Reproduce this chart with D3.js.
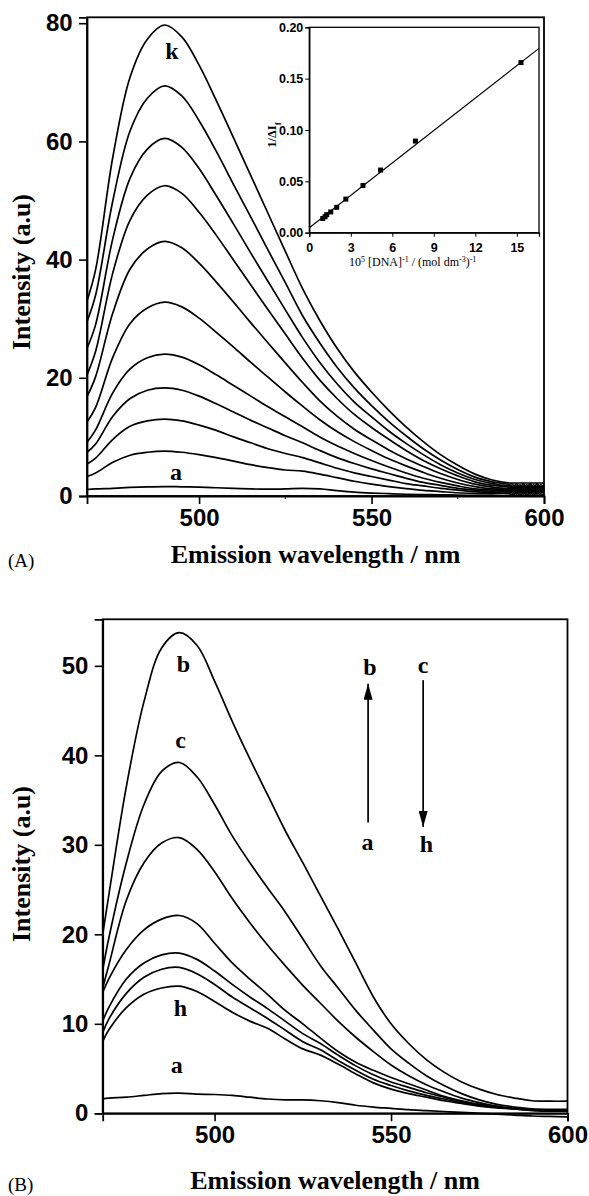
<!DOCTYPE html>
<html>
<head>
<meta charset="utf-8">
<script src="https://cdn.jsdelivr.net/npm/d3@7"></script>
<style>
  html, body { margin: 0; padding: 0; background: #fff; }
  svg { display: block; }
  .tick text { font-family: "Liberation Sans", Arial, sans-serif; font-weight: bold; }
</style>
</head>
<body>
<svg id="chart" width="589" height="1196"></svg>
<script>
// ---------------- DATA ----------------
// Panel A: emission spectra a..k (intensity, a.u.)
const wavelengthsA = [467.5, 470, 475, 480, 485, 490, 495, 500, 505, 510, 515, 520, 525, 530, 535, 540, 545, 550, 555, 560, 565, 570, 575, 580, 585, 590,
                      591, 592, 593, 594, 595, 596, 597, 598, 599, 600];
const seriesA_a = [1.1, 1.2, 1.3, 1.45, 1.55, 1.6, 1.55, 1.5, 1.4, 1.3, 1.2, 1.15, 1.2, 1.3, 1.2, 0.9, 0.65, 0.5, 0.4, 0.3, 0.25, 0.2, 0.15, 0.1, 0.1, 0.05,
                   0.05, 0.05, 0.05, 0.05, 0.05, 0.05, 0.05, 0.05, 0.05, 0.05];
const seriesA_b = [3.3, 3.9, 5.7, 6.9, 7.4, 7.6, 7.4, 7.0, 6.5, 5.9, 5.3, 4.8, 4.4, 4.2, 3.7, 3.1, 2.5, 2.0, 1.6, 1.25, 0.95, 0.75, 0.55, 0.45, 0.4, 0.4,
                   0.15, 0.6, 0.15, 0.6, 0.15, 0.6, 0.15, 0.6, 0.15, 0.4];
const seriesA_c = [5.4, 6.4, 9.6, 11.8, 12.7, 13.0, 12.7, 12.0, 11.1, 10.0, 9.0, 8.0, 7.2, 6.5, 5.6, 4.7, 3.9, 3.3, 2.7, 2.1, 1.7, 1.3, 1.0, 0.75, 0.6, 0.55,
                   0.9, 0.3, 0.9, 0.3, 0.9, 0.3, 0.9, 0.3, 0.9, 0.6];
const seriesA_d = [7.4, 8.8, 13.5, 16.5, 17.9, 18.3, 17.9, 16.9, 15.6, 14.2, 12.8, 11.5, 10.2, 9.0, 7.7, 6.5, 5.5, 4.6, 3.8, 3.0, 2.3, 1.8, 1.3, 1.0, 0.8, 0.7,
                   0.5, 1.05, 0.5, 1.05, 0.5, 1.05, 0.5, 1.05, 0.5, 0.8];
const seriesA_e = [9.1, 11.2, 17.5, 21.5, 23.4, 24.0, 23.5, 22.2, 20.5, 18.7, 16.9, 15.1, 13.4, 11.7, 10.0, 8.5, 7.2, 6.0, 4.9, 3.9, 3.0, 2.3, 1.7, 1.2, 1.0, 0.9,
                   1.2, 0.65, 1.2, 0.65, 1.2, 0.65, 1.2, 0.65, 1.2, 0.9];
const seriesA_f = [12.5, 15.0, 23.5, 29.2, 31.8, 32.8, 32.0, 30.1, 27.7, 25.2, 22.6, 20.1, 17.6, 15.2, 12.9, 10.9, 9.2, 7.7, 6.3, 5.1, 4.0, 3.0, 2.2, 1.6, 1.2, 1.1,
                   0.8, 1.4, 0.8, 1.4, 0.8, 1.4, 0.8, 1.4, 0.8, 1.1];
const seriesA_g = [16.8, 20.2, 31.0, 38.4, 41.8, 43.1, 42.0, 39.4, 36.2, 32.8, 29.3, 25.9, 22.5, 19.2, 16.1, 13.5, 11.3, 9.5, 7.8, 6.3, 5.0, 3.8, 2.8, 2.0, 1.5, 1.3,
                   1.55, 1.0, 1.55, 1.0, 1.55, 1.0, 1.55, 1.0, 1.55, 1.3];
const seriesA_h = [20.5, 24.5, 37.8, 46.7, 50.9, 52.5, 51.2, 48.0, 44.1, 39.9, 35.7, 31.5, 27.4, 23.3, 19.6, 16.5, 13.8, 11.6, 9.6, 7.7, 6.0, 4.6, 3.4, 2.4, 1.8, 1.5,
                   1.15, 1.7, 1.15, 1.7, 1.15, 1.7, 1.15, 1.7, 1.15, 1.4];
const seriesA_i = [25.0, 29.0, 43.6, 53.8, 58.7, 60.5, 59.0, 55.4, 50.8, 46.0, 41.1, 36.3, 31.5, 26.8, 22.6, 19.0, 15.9, 13.4, 11.0, 8.9, 7.0, 5.3, 3.9, 2.8, 2.1, 1.7,
                   1.9, 1.3, 1.9, 1.3, 1.9, 1.3, 1.9, 1.3, 1.9, 1.6];
const seriesA_j = [29.5, 34.0, 50.0, 61.8, 67.3, 69.4, 67.7, 63.5, 58.3, 52.7, 47.2, 41.6, 36.1, 30.5, 25.9, 21.8, 18.3, 15.3, 12.6, 10.2, 8.0, 6.1, 4.5, 3.2, 2.4, 1.9,
                   1.5, 2.05, 1.5, 2.05, 1.5, 2.05, 1.5, 2.05, 1.5, 1.8];
const seriesA_k = [33.0, 38.3, 57.4, 70.9, 77.3, 79.7, 77.7, 72.9, 66.9, 60.6, 54.2, 47.8, 41.4, 35.1, 29.7, 25.0, 21.0, 17.6, 14.5, 11.7, 9.2, 7.0, 5.2, 3.7, 2.7, 2.2,
                   2.2, 2.2, 2.2, 2.2, 2.2, 2.2, 2.2, 2.2, 2.2, 2.2];
const seriesA = [seriesA_a, seriesA_b, seriesA_c, seriesA_d, seriesA_e, seriesA_f, seriesA_g, seriesA_h, seriesA_i, seriesA_j, seriesA_k];
const yTicksA = [0, 20, 40, 60, 80];
const xTicksA = [500, 550, 600];
const xMinorA = [525, 575];

// Inset: double reciprocal plot
const insetX = [0.97, 1.14, 1.26, 1.55, 1.98, 2.64, 3.88, 5.15, 7.67, 15.30];
const insetY = [0.0138, 0.0156, 0.0176, 0.0202, 0.0247, 0.0327, 0.0459, 0.0610, 0.0892, 0.1657];
const insetFitX = [0, 16.6];
const insetFitY = [0.0048, 0.1795];
const insetXTicks = [0, 3, 6, 9, 12, 15];
const insetYTicks = [0.00, 0.05, 0.10, 0.15, 0.20];

// Panel B: emission spectra a..h
const wavelengthsB = [468.3, 470, 475, 480, 485, 490, 495, 500, 505, 510, 515, 520, 525, 530, 535, 540, 545, 550, 555, 560, 565, 570, 575, 580, 585, 590, 595, 600];
const seriesB_a = [1.6, 1.7, 1.8, 2.0, 2.2, 2.25, 2.15, 2.1, 2.0, 1.8, 1.6, 1.5, 1.5, 1.4, 1.2, 0.9, 0.7, 0.55, 0.4, 0.3, 0.2, 0.1, 0.0, -0.1, -0.2, -0.3, -0.35, -0.4];
const seriesB_b = [20.0, 24.3, 36.5, 46.0, 52.0, 53.7, 52.3, 48.3, 43.8, 39.6, 35.6, 31.6, 28.0, 24.3, 20.6, 16.8, 13.0, 10.0, 7.8, 6.0, 4.6, 3.5, 2.7, 2.1, 1.7, 1.4, 1.35, 1.35];
const seriesB_c = [16.0, 19.5, 28.0, 34.5, 38.2, 39.2, 37.6, 34.5, 31.0, 28.0, 25.2, 22.5, 19.5, 16.5, 14.0, 11.5, 9.3, 7.2, 5.6, 4.2, 3.1, 2.2, 1.5, 1.0, 0.7, 0.5, 0.45, 0.45];
const seriesB_d = [14.0, 16.5, 23.8, 28.0, 30.2, 30.8, 29.5, 27.0, 24.0, 21.3, 18.8, 16.5, 14.3, 12.3, 10.3, 8.5, 6.9, 5.4, 4.2, 3.2, 2.4, 1.7, 1.2, 0.8, 0.5, 0.4, 0.3, 0.3];
const seriesB_e = [13.5, 15.0, 18.3, 20.5, 21.7, 22.1, 21.2, 19.0, 16.8, 15.0, 13.3, 11.5, 10.0, 8.4, 6.9, 5.7, 4.8, 4.0, 3.3, 2.6, 1.9, 1.4, 1.0, 0.7, 0.5, 0.3, 0.25, 0.25];
const seriesB_f = [10.3, 11.8, 15.0, 16.8, 17.7, 17.9, 17.2, 15.9, 14.4, 13.0, 11.7, 10.3, 8.9, 7.8, 6.5, 5.3, 4.3, 3.5, 2.9, 2.3, 1.8, 1.3, 1.0, 0.7, 0.5, 0.4, 0.3, 0.3];
const seriesB_g = [9.0, 10.5, 13.4, 15.2, 16.1, 16.3, 15.6, 14.4, 13.0, 11.8, 10.6, 9.3, 8.0, 7.1, 5.9, 4.8, 3.8, 3.1, 2.5, 2.0, 1.6, 1.2, 0.9, 0.7, 0.5, 0.4, 0.3, 0.3];
const seriesB_h = [8.0, 9.3, 11.8, 13.3, 14.0, 14.2, 13.6, 12.5, 11.3, 10.3, 9.5, 8.3, 7.2, 6.5, 5.5, 4.4, 3.4, 2.7, 2.2, 1.8, 1.4, 1.1, 0.8, 0.6, 0.5, 0.4, 0.3, 0.3];
const seriesB = [seriesB_a, seriesB_b, seriesB_c, seriesB_d, seriesB_e, seriesB_f, seriesB_g, seriesB_h];
const yTicksB = [0, 10, 20, 30, 40, 50];
const xTicksB = [500, 550, 600];

// Curve labels (data coordinates)
const labelsA = [{t: "k", x: 492.1, y: 74.0}, {t: "a", x: 493.3, y: 2.7}];
const labelsB = [{t: "b", x: 491.2, y: 49.3}, {t: "c", x: 490.4, y: 40.8}, {t: "h", x: 490.3, y: 10.9}, {t: "a", x: 489.3, y: 4.5},
                 {t: "b", x: 544.0, y: 49.0}, {t: "a", x: 543.3, y: 29.4}, {t: "c", x: 559.1, y: 49.2}, {t: "h", x: 560.0, y: 29.2}];
const arrowsB = [{x: 543.5, from: 32.5, to: 48.0}, {x: 559.1, from: 48.4, to: 32.0}];

// ---------------- DRAWING ----------------
const svg = d3.select("#chart");
const SERIF = '"Liberation Serif", "Times New Roman", serif';

// Arrow marker
svg.append("defs").append("marker")
  .attr("id", "arrowhead").attr("viewBox", "0 0 10 10")
  .attr("refX", 10).attr("refY", 5)
  .attr("markerUnits", "userSpaceOnUse")
  .attr("markerWidth", 16).attr("markerHeight", 9)
  .attr("preserveAspectRatio", "none")
  .attr("orient", "auto")
  .append("path").attr("d", "M0,0 L10,5 L0,10 Z").attr("fill", "#000");

function drawPanel(cfg) {
  const x = d3.scaleLinear().domain(cfg.xDomain).range([cfg.left, cfg.right]);
  const y = d3.scaleLinear().domain(cfg.yDomain).range([cfg.bottom, cfg.top]);
  const g = svg.append("g");

  // frame
  g.append("rect").attr("x", cfg.left).attr("y", cfg.top)
    .attr("width", cfg.right - cfg.left).attr("height", cfg.bottom - cfg.top)
    .attr("fill", "none").attr("stroke", "#000").attr("stroke-width", 1.8);

  // curves
  const line = d3.line().x((d, i) => x(cfg.wl[i])).y(d => y(d)).curve(d3.curveCatmullRom.alpha(0.5));
  g.append("g").selectAll("path").data(cfg.series).join("path")
    .attr("d", d => line(d)).attr("fill", "none").attr("stroke", "#000")
    .attr("stroke-width", 1.7).attr("stroke-linejoin", "round");

  // axes
  const ax = g.append("g").attr("transform", `translate(0,${cfg.bottom})`)
    .call(d3.axisBottom(x).tickValues(cfg.xTicks).tickSize(8).tickPadding(4.5).tickFormat(d3.format("d")));
  ax.select(".domain").attr("stroke-width", 1.8);
  ax.selectAll(".tick line").attr("stroke-width", 1.6);
  ax.selectAll(".tick text").attr("font-size", 24).attr("fill", "#000");
  if (cfg.xMinor) {
    g.append("g").selectAll("line").data(cfg.xMinor).join("line")
      .attr("x1", d => x(d)).attr("x2", d => x(d))
      .attr("y1", cfg.bottom).attr("y2", cfg.bottom + 3)
      .attr("stroke", "#000").attr("stroke-width", 1);
  }
  const ay = g.append("g").attr("transform", `translate(${cfg.left},0)`)
    .call(d3.axisLeft(y).tickValues(cfg.yTicks).tickSize(8).tickPadding(6.3).tickFormat(d3.format("d")));
  ay.select(".domain").attr("stroke-width", 1.8);
  ay.selectAll(".tick line").attr("stroke-width", 1.6);
  ay.selectAll(".tick text").attr("font-size", 24).attr("fill", "#000");

  // axis titles
  g.append("text").attr("x", (cfg.left + cfg.right) / 2).attr("y", cfg.xTitleY)
    .attr("text-anchor", "middle").attr("font-family", SERIF).attr("font-weight", "bold")
    .attr("font-size", 26).text("Emission wavelength / nm");
  g.append("text").attr("transform", `translate(30,${cfg.yTitleY}) rotate(-90)`)
    .attr("text-anchor", "middle").attr("font-family", SERIF).attr("font-weight", "bold")
    .attr("font-size", 26).text("Intensity (a.u)");
  g.append("text").attr("x", 8).attr("y", cfg.tagY)
    .attr("font-family", SERIF).attr("font-size", 19).text(cfg.tag);

  // curve labels
  g.append("g").selectAll("text").data(cfg.labels).join("text")
    .attr("x", d => x(d.x)).attr("y", d => y(d.y)).attr("text-anchor", "middle")
    .attr("font-family", SERIF).attr("font-weight", "bold").attr("font-size", 24)
    .text(d => d.t);

  if (cfg.arrows) {
    g.append("g").selectAll("line").data(cfg.arrows).join("line")
      .attr("x1", d => x(d.x)).attr("x2", d => x(d.x))
      .attr("y1", d => y(d.from)).attr("y2", d => y(d.to))
      .attr("stroke", "#000").attr("stroke-width", 1.7)
      .attr("marker-end", "url(#arrowhead)");
  }
  return {x, y};
}

drawPanel({
  xDomain: [467.5, 600], yDomain: [0, 81],
  left: 87, right: 544, top: 17.3, bottom: 496,
  wl: wavelengthsA, series: seriesA,
  xTicks: xTicksA, yTicks: yTicksA, xMinor: xMinorA,
  xTitleY: 563, yTitleY: 272, tag: "(A)", tagY: 567,
  labels: labelsA
});

drawPanel({
  xDomain: [468.3, 600], yDomain: [0, 55.2],
  left: 102.7, right: 567.5, top: 619.3, bottom: 1113.3,
  wl: wavelengthsB, series: seriesB,
  xTicks: xTicksB, yTicks: yTicksB,
  xTitleY: 1189, yTitleY: 864, tag: "(B)", tagY: 1191,
  labels: labelsB, arrows: arrowsB
});

// ---------------- INSET ----------------
(function () {
  const L = 309.3, R = 539, T = 27.3, B = 232.7;
  const x = d3.scaleLinear().domain([0, 16.6]).range([L, R]);
  const y = d3.scaleLinear().domain([0, 0.2]).range([B, T]);
  const g = svg.append("g");
  g.append("rect").attr("x", L).attr("y", T).attr("width", R - L).attr("height", B - T)
    .attr("fill", "#fff").attr("stroke", "#000").attr("stroke-width", 1.3);

  const ax = g.append("g").attr("transform", `translate(0,${B})`)
    .call(d3.axisBottom(x).tickValues(insetXTicks).tickSize(4).tickPadding(6.5).tickFormat(d3.format("d")));
  const ay = g.append("g").attr("transform", `translate(${L},0)`)
    .call(d3.axisLeft(y).tickValues(insetYTicks).tickSize(4).tickPadding(2).tickFormat(d3.format(".2f")));
  [ax, ay].forEach(a => {
    a.select(".domain").attr("stroke-width", 1.3);
    a.selectAll(".tick text").attr("font-family", SERIF).attr("font-weight", "normal")
      .attr("font-size", 12.5).attr("fill", "#000");
  });

  g.append("line")
    .attr("x1", x(insetFitX[0])).attr("y1", y(insetFitY[0]))
    .attr("x2", x(insetFitX[1])).attr("y2", y(insetFitY[1]))
    .attr("stroke", "#000").attr("stroke-width", 1.1);

  g.append("g").selectAll("rect").data(insetX).join("rect")
    .attr("x", (d) => x(d) - 2.5).attr("y", (d, i) => y(insetY[i]) - 2.5)
    .attr("width", 5).attr("height", 5).attr("fill", "#000");

  // x title with superscripts
  const xt = g.append("text").attr("x", 349).attr("y", 266)
    .attr("font-family", SERIF).attr("font-size", 12);
  const parts = [["10", 0], ["5", 1], [" [DNA]", 0], ["-1", 1], [" / (mol dm", 0], ["-3", 1], [")", 0], ["-1", 1]];
  parts.forEach(([t, sup]) => {
    xt.append("tspan").attr("font-size", sup ? 8 : 12)
      .attr("baseline-shift", sup ? "super" : "baseline").text(t);
  });

  // y title
  const yt = g.append("text").attr("transform", `translate(276,${(T + B) / 2 + 5}) rotate(-90)`)
    .attr("text-anchor", "middle").attr("font-family", SERIF).attr("font-weight", "bold")
    .attr("font-size", 12.5);
  yt.append("tspan").text("1/ΔI");
  yt.append("tspan").attr("font-size", 9).attr("baseline-shift", "sub").text("f");
})();
</script>
</body>
</html>
